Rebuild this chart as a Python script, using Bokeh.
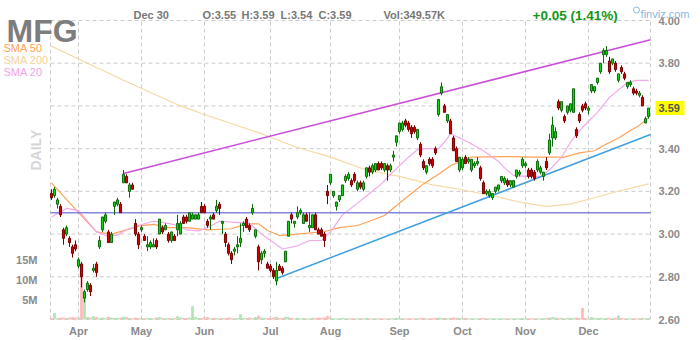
import numpy as np
from bokeh.plotting import figure
from bokeh.models import Range1d, ColumnDataSource
from bokeh.core.properties import value
from bokeh.embed import file_html
from bokeh.resources import INLINE

opens = [
3.19,3.18,3.14,3.13,3.02,3.00,2.98,2.94,2.95,2.85,
2.86,2.70,2.74,2.76,2.83,2.86,2.94,3.02,3.06,3.01,
2.96,3.13,3.14,3.14,3.24,3.27,3.20,3.23,3.05,3.00,
3.02,2.99,2.94,2.94,2.94,2.97,3.00,3.03,3.02,3.00,
2.97,2.99,3.02,3.00,3.08,3.08,3.06,3.07,3.07,3.07,
3.13,3.13,3.06,3.07,3.09,3.11,3.14,3.05,3.00,2.95,
2.91,2.92,2.94,2.96,3.04,3.07,3.04,3.10,2.99,2.94,
2.88,2.91,2.86,2.85,2.83,2.78,2.85,2.84,2.87,2.99,
3.09,3.05,3.08,3.10,3.05,3.09,3.03,3.03,3.09,3.02,
3.02,3.00,3.20,3.24,3.18,3.13,3.16,3.18,3.25,3.26,
3.25,3.28,3.21,3.24,3.21,3.27,3.31,3.29,3.30,3.33,
3.33,3.30,3.32,3.30,3.36,3.43,3.48,3.49,3.53,3.52,
3.50,3.50,3.45,3.42,3.34,3.29,3.35,3.35,3.40,3.56,
3.66,3.60,3.53,3.53,3.45,3.40,3.30,3.31,3.36,3.34,
3.30,3.32,3.33,3.31,3.24,3.19,3.18,3.17,3.20,3.21,
3.25,3.24,3.25,3.23,3.22,3.27,3.28,3.32,3.32,3.30,
3.30,3.29,3.30,3.29,3.27,3.34,3.38,3.45,3.45,3.62,
3.58,3.55,3.57,3.58,3.57,3.49,3.56,3.60,3.61,3.58,
3.67,3.67,3.71,3.76,3.84,3.84,3.81,3.80,3.80,3.72,
3.78,3.75,3.69,3.70,3.68,3.67,3.65,3.64,3.52,3.55]

highs = [
3.21,3.22,3.17,3.14,3.03,3.04,2.99,2.95,2.97,2.89,
2.87,2.74,2.78,2.77,2.86,2.87,2.99,3.08,3.10,3.02,
3.01,3.15,3.17,3.15,3.30,3.28,3.24,3.24,3.07,3.01,
3.04,3.00,2.99,2.97,2.98,2.98,3.07,3.04,3.05,3.01,
3.01,3.00,3.09,3.06,3.09,3.09,3.10,3.10,3.09,3.10,
3.15,3.14,3.07,3.09,3.10,3.16,3.15,3.06,3.01,2.96,
2.92,2.94,2.99,3.05,3.06,3.08,3.05,3.14,3.02,2.95,
2.92,2.93,2.87,2.86,2.84,2.87,2.86,2.85,2.92,3.06,
3.10,3.06,3.13,3.12,3.10,3.10,3.10,3.09,3.10,3.03,
3.03,3.01,3.23,3.28,3.20,3.15,3.18,3.23,3.28,3.29,
3.26,3.29,3.25,3.25,3.25,3.31,3.32,3.33,3.33,3.34,
3.34,3.33,3.33,3.33,3.39,3.46,3.52,3.53,3.54,3.53,
3.51,3.51,3.49,3.43,3.35,3.32,3.36,3.36,3.41,3.63,
3.71,3.61,3.56,3.54,3.46,3.41,3.36,3.36,3.37,3.36,
3.35,3.34,3.36,3.32,3.25,3.21,3.21,3.19,3.22,3.23,
3.27,3.27,3.26,3.25,3.25,3.30,3.30,3.36,3.34,3.31,
3.31,3.30,3.35,3.32,3.29,3.36,3.47,3.55,3.50,3.63,
3.62,3.56,3.60,3.61,3.68,3.50,3.57,3.61,3.62,3.60,
3.70,3.69,3.73,3.80,3.87,3.88,3.83,3.82,3.81,3.75,
3.79,3.76,3.71,3.72,3.69,3.68,3.67,3.65,3.55,3.59]

lows = [
3.16,3.17,3.12,3.08,2.95,2.99,2.94,2.89,2.92,2.84,
2.75,2.68,2.73,2.71,2.82,2.80,2.93,3.01,3.05,2.96,
2.96,3.09,3.13,3.10,3.24,3.24,3.17,3.21,2.99,2.93,
3.01,2.97,2.92,2.93,2.94,2.93,3.00,3.00,3.02,2.96,
2.96,2.97,2.99,3.00,3.05,3.05,3.06,3.07,3.07,3.07,
3.10,3.10,3.03,3.02,3.07,3.10,3.09,3.00,2.94,2.90,
2.86,2.90,2.91,2.94,3.01,3.03,3.01,3.09,2.98,2.83,
2.86,2.89,2.84,2.82,2.79,2.76,2.83,2.81,2.87,2.99,
3.05,3.03,3.07,3.09,3.05,3.06,3.01,3.03,3.02,3.00,
2.99,2.94,3.14,3.23,3.17,3.11,3.15,3.18,3.24,3.25,
3.22,3.24,3.20,3.21,3.20,3.26,3.27,3.28,3.29,3.30,
3.30,3.29,3.25,3.29,3.34,3.41,3.47,3.48,3.50,3.48,
3.45,3.47,3.44,3.36,3.30,3.28,3.32,3.31,3.37,3.55,
3.65,3.57,3.52,3.47,3.39,3.34,3.29,3.30,3.33,3.33,
3.29,3.31,3.32,3.25,3.19,3.18,3.17,3.16,3.19,3.20,
3.24,3.23,3.22,3.22,3.22,3.26,3.27,3.31,3.31,3.26,
3.26,3.25,3.29,3.28,3.25,3.30,3.37,3.41,3.44,3.58,
3.57,3.52,3.56,3.57,3.57,3.45,3.52,3.57,3.58,3.56,
3.66,3.66,3.70,3.75,3.80,3.83,3.75,3.79,3.76,3.71,
3.75,3.72,3.68,3.69,3.65,3.65,3.64,3.60,3.52,3.54]

closes = [
3.17,3.21,3.16,3.09,2.98,3.03,2.96,2.91,2.93,2.88,
2.80,2.73,2.77,2.73,2.84,2.82,2.97,3.08,3.09,2.96,
3.00,3.15,3.16,3.10,3.28,3.24,3.23,3.21,3.00,2.95,
3.03,2.97,2.95,2.96,2.95,2.94,3.07,3.01,3.04,2.97,
3.01,2.97,3.05,3.05,3.05,3.06,3.10,3.09,3.09,3.09,
3.10,3.10,3.04,3.08,3.07,3.13,3.12,3.06,2.96,2.91,
2.88,2.93,2.95,2.98,3.05,3.03,3.02,3.12,3.02,2.87,
2.91,2.92,2.84,2.83,2.80,2.83,2.83,2.82,2.92,3.06,
3.07,3.06,3.10,3.11,3.09,3.06,3.04,3.09,3.02,3.00,
2.99,2.97,3.18,3.28,3.20,3.15,3.18,3.23,3.27,3.28,
3.23,3.25,3.24,3.22,3.24,3.31,3.29,3.32,3.33,3.30,
3.31,3.33,3.30,3.32,3.37,3.46,3.52,3.52,3.51,3.49,
3.47,3.48,3.49,3.37,3.31,3.32,3.33,3.32,3.38,3.63,
3.69,3.57,3.56,3.47,3.39,3.34,3.36,3.35,3.33,3.35,
3.35,3.33,3.34,3.26,3.19,3.20,3.20,3.19,3.22,3.23,
3.27,3.26,3.23,3.25,3.25,3.30,3.29,3.35,3.33,3.27,
3.27,3.26,3.34,3.31,3.29,3.31,3.44,3.51,3.48,3.59,
3.62,3.53,3.60,3.61,3.68,3.46,3.53,3.58,3.59,3.59,
3.70,3.69,3.73,3.80,3.86,3.86,3.76,3.82,3.77,3.75,
3.76,3.73,3.71,3.71,3.66,3.66,3.66,3.60,3.54,3.59]

volumes_m = [
0.4,1.6,0.4,0.5,0.5,0.4,0.5,0.6,0.5,0.5,
12.2,6.8,0.6,0.5,0.8,0.6,0.4,0.5,0.4,0.7,
0.5,0.4,0.4,0.5,0.7,0.6,0.4,0.3,0.5,0.4,
0.4,0.3,0.4,0.4,0.3,0.5,0.6,0.4,0.3,0.4,
0.3,0.4,0.8,0.5,0.4,0.4,0.5,3.3,0.6,0.4,
0.4,0.5,0.6,0.3,0.4,0.4,0.3,0.4,0.4,0.5,
0.4,0.3,0.4,1.3,0.4,0.4,0.5,0.4,0.6,1.0,
0.5,0.4,0.4,0.4,0.5,0.7,0.4,0.4,0.7,0.6,
0.4,0.3,0.4,0.3,0.4,0.3,0.3,0.4,0.4,0.5,
0.4,0.5,0.9,0.5,0.3,0.3,0.3,0.4,0.3,0.3,
0.3,0.3,0.3,0.3,0.3,0.4,0.3,0.3,0.3,0.3,
0.3,0.3,0.3,0.3,0.3,0.4,0.4,0.3,0.3,0.3,
0.3,0.3,0.3,0.4,0.4,0.3,0.3,0.3,0.4,0.5,
0.4,0.4,0.3,0.4,0.5,0.4,0.4,0.3,0.4,0.3,
0.3,0.3,0.3,0.4,0.4,0.3,0.3,0.3,0.3,0.3,
0.3,0.3,0.3,0.3,0.3,0.3,0.3,0.4,0.3,0.3,
0.3,0.3,0.3,0.3,0.3,0.4,0.5,0.6,0.5,0.4,
0.4,0.3,0.4,0.4,0.4,0.5,0.4,2.9,0.4,0.3,
0.6,0.4,0.4,0.4,0.3,0.4,0.4,0.3,0.4,1.0,
0.4,0.3,0.3,0.3,0.3,0.3,0.3,0.4,0.3,0.35]

# moving averages (trading-day index, price)
sma20_x = [0,5,9,12,15,19,22,25,29,34,39,42,45,49,52,56,61,66,70,73,77,82,86,90,93,97,102,106,110,113,
           119,122,125,129,131,133,139,144,149,151,154,158,163,166,170,173,177,182,186,192,195,199]
sma20_y = [3.08,3.12,3.11,3.06,3.01,2.99,2.995,3.02,3.04,3.06,3.05,3.04,3.02,3.015,3.03,3.06,3.055,3.05,3.00,2.97,
           2.93,2.945,2.97,2.97,3.01,3.09,3.145,3.19,3.235,3.28,3.36,3.395,3.40,3.40,3.43,3.47,3.43,3.39,3.34,3.31,
           3.275,3.27,3.27,3.30,3.36,3.43,3.50,3.57,3.64,3.71,3.72,3.72]
sma50_x = [0,9,15,20,25,30,34,39,45,52,60,65,69,72,76,82,91,96,102,106,111,115,120,124,129,133,137,140,150,162,
           171,176,181,184,189,193,196,199]
sma50_y = [3.24,3.10,3.01,3.00,3.02,3.04,3.045,3.03,3.03,3.02,3.025,3.048,3.048,3.017,2.993,3.00,3.012,3.03,3.04,3.06,
           3.087,3.134,3.19,3.235,3.28,3.32,3.345,3.36,3.363,3.36,3.36,3.38,3.39,3.415,3.45,3.485,3.51,3.545]
sma200_x = [0,12,24,43,51,70,81,93,105,116,127,136,143,147,156,165,173,181,186,199]
sma200_y = [3.88,3.80,3.72,3.60,3.56,3.47,3.41,3.36,3.30,3.27,3.23,3.21,3.19,3.18,3.15,3.13,3.14,3.17,3.19,3.235]

# trend lines (index, price)
upper_trend_x = [24, 199.67]
upper_trend_y = [3.284, 3.91]
lower_trend_x = [75, 199.67]
lower_trend_y = [2.792, 3.466]
support_level = 3.10

month_ticks = [9, 30, 51, 73, 93, 116, 137, 158, 179]
month_labels = ["Apr", "May", "Jun", "Jul", "Aug", "Sep", "Oct", "Nov", "Dec"]
price_ticks = [2.6, 2.8, 3.0, 3.2, 3.4, 3.6, 3.8, 4.0]
vol_ticks = [5, 10, 15]
vol_labels = ["5M", "10M", "15M"]
last_price = 3.59

FONT = "Liberation Sans"
GRAY = "#8a8a8a"

# canvas geometry: plot area 50..650 x 20..319 px, 3 px per trading day
W, H = 700, 340
PX_PER_DAY = 3.0
PX_PER_UNIT = 299 / 1.4
PX_PER_M = 4.0
X_LEFT, X_RIGHT = -1/3, 199 + 2/3      # plot area edges in index units
P_LO, P_HI = 2.6, 4.0                  # plot area edges in price

def px2x(px):
    return (px - 51) / PX_PER_DAY

def py2y(py):
    return P_HI - (py - 20) / PX_PER_UNIT

def py2v(py):
    return (319 - py) / PX_PER_M

p = figure(width=W, height=H, x_range=Range1d(px2x(0), px2x(W)), y_range=Range1d(py2y(H), py2y(0)),
           output_backend="svg", toolbar_location=None, x_axis_location=None, y_axis_location=None,
           min_border=0)
p.extra_y_ranges = {"vol": Range1d(py2v(H), py2v(0))}
p.outline_line_color = None
p.background_fill_color = "white"
p.border_fill_color = "white"
p.grid.visible = False

# dashed grid
gx = [X_LEFT] + month_ticks + [X_RIGHT]
p.segment(x0=gx, y0=[P_LO] * len(gx), x1=gx, y1=[P_HI] * len(gx),
          line_color="#cccccc", line_dash="4 3", line_width=1)
p.segment(x0=[X_LEFT] * len(price_ticks), y0=price_ticks, x1=[X_RIGHT] * len(price_ticks), y1=price_ticks,
          line_color="#cccccc", line_dash="4 3", line_width=1)

n = len(closes)
idx = list(range(n))
up = [c >= o for o, c in zip(opens, closes)]

# volume
vsrc = ColumnDataSource(dict(x=idx, top=volumes_m,
                             color=["#b3e3b3" if u else "#ffb9b9" for u in up]))
p.vbar(x="x", top="top", bottom=0, width=0.9, fill_color="color", line_color=None,
       source=vsrc, y_range_name="vol")

# moving averages
p.line(sma200_x, sma200_y, line_color="#f5d9a6", line_width=1.2)
p.line(sma50_x, sma50_y, line_color="#ffa255", line_width=1.2)
p.line(sma20_x, sma20_y, line_color="#f2a9ea", line_width=1.2)

# trend lines
p.line([X_LEFT, X_RIGHT], [support_level, support_level], line_color="#8585e0", line_width=1.5)
p.line(upper_trend_x, upper_trend_y, line_color="#c84fd8", line_width=1.5)
p.line(lower_trend_x, lower_trend_y, line_color="#3fa0e0", line_width=1.5)

# candles
csrc = ColumnDataSource(dict(
    x=idx, h=highs, l=lows,
    top=[max(o, c) for o, c in zip(opens, closes)],
    bot=[min(o, c) for o, c in zip(opens, closes)],
    fill=["#12d312" if u else "#d60000" for u in up],
    edge=["#0b6b0b" if u else "#7a0000" for u in up],
))
p.segment(x0="x", y0="l", x1="x", y1="h", line_color="edge", line_width=1, source=csrc)
p.vbar(x="x", top="top", bottom="bot", width=0.7, fill_color="fill", line_color="edge",
       line_width=1, source=csrc)

# axis labels
p.text(x=[px2x(658)] * len(price_ticks), y=price_ticks,
       text=[f"{t:.2f}" if abs(t - 3.6) > 1e-9 else "" for t in price_ticks],
       text_color=GRAY, text_font=value(FONT), text_font_size="11px", text_font_style="bold",
       text_align="left", text_baseline="middle")
p.text(x=month_ticks, y=[py2y(330)] * len(month_ticks), text=month_labels,
       text_color=GRAY, text_font=value(FONT), text_font_size="11px", text_font_style="bold",
       text_align="center", text_baseline="middle")
p.text(x=[px2x(37)] * len(vol_ticks), y=vol_ticks, text=vol_labels, y_range_name="vol",
       text_color=GRAY, text_font=value(FONT), text_font_size="11px", text_font_style="bold",
       text_align="right", text_baseline="middle")

# last price highlight
p.quad(left=[px2x(655)], right=[px2x(684)], bottom=[last_price - 7 / PX_PER_UNIT],
       top=[last_price + 7 / PX_PER_UNIT], fill_color="#ffff00", line_color=None)
p.text(x=[px2x(658)], y=[last_price], text=[f"{last_price:.2f}"], text_color="#555555",
       text_font=value(FONT), text_font_size="11px", text_font_style="bold",
       text_align="left", text_baseline="middle")

# header and legend texts
def txt(text, px, py, color, size, style="normal", align="left", baseline="alphabetic", angle=0.0):
    p.text(x=[px2x(px)], y=[py2y(py)], text=[text], text_color=color, text_font=value(FONT),
           text_font_size=size, text_font_style=style, text_align=align,
           text_baseline=baseline, angle=angle)

txt("MFG", 6, 30, "#7d7d7d", "32px", "bold")
txt("SMA 50", 3, 47, "#ffa255", "11px")
txt("SMA 200", 3, 59, "#f3d29c", "11px")
txt("SMA 20", 3, 71, "#f0a3e6", "11px")
txt("DAILY", 35, 170, "#d6d6d6", "14px", "bold", angle=np.pi / 2)

txt("Dec 30", 133, 14, "#777777", "11px", "bold")
txt("O:3.55", 202, 14, "#777777", "11px", "bold")
txt("H:3.59", 241, 14, "#777777", "11px", "bold")
txt("L:3.54", 280, 14, "#777777", "11px", "bold")
txt("C:3.59", 318, 14, "#777777", "11px", "bold")
txt("Vol:349.57K", 383, 14, "#777777", "11px", "bold")
txt("+0.05 (1.41%)", 532, 15, "#119911", "13.5px", "bold")
txt("finviz.com", 689, 13, "#8db6dd", "11px", align="right")
p.scatter(x=[px2x(636)], y=[py2y(9.5)], marker="circle", size=6, fill_color=None,
          line_color="#8db6dd", line_width=1)

open("out.html", "w").write(file_html(p, INLINE))
